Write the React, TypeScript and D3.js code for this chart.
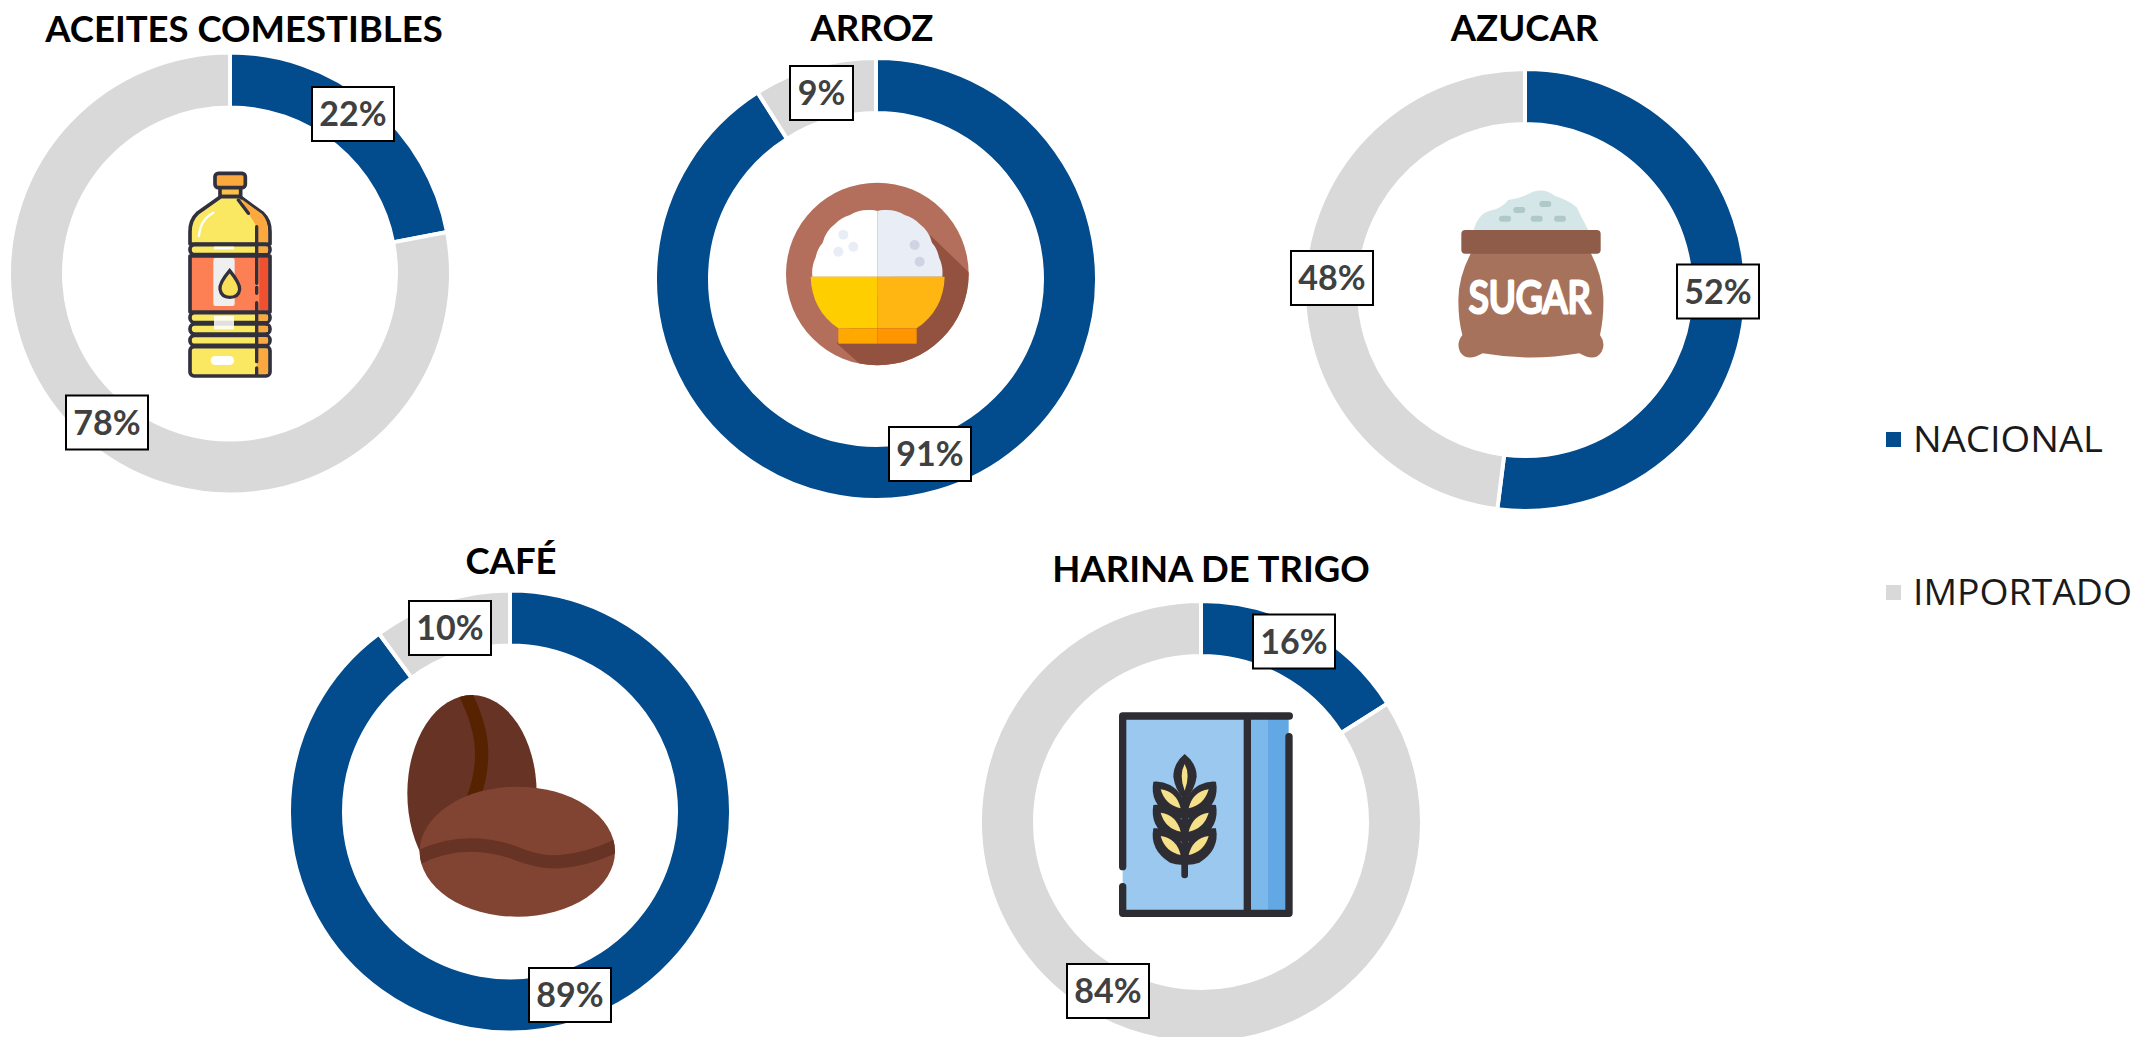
import React from "react";
import * as d3 from "d3";

const categories = ["ACEITES COMESTIBLES", "ARROZ", "AZUCAR", "CAFÉ", "HARINA DE TRIGO"];
const nacional = [22, 91, 52, 89, 16];
const importado = [78, 9, 48, 10, 84];
const seriesNames = ["NACIONAL", "IMPORTADO"];

const BLUE = "#024B8D";
const GRAY = "#D9D9D9";
const colors = [BLUE, GRAY];
const OUTER = 221;
const INNER = 166;

const layout = [
  { cx: 230, cy: 273.5, tx: 244, ty: 42, boxes: [[312, 87], [66, 395.5]] },
  { cx: 876, cy: 279, tx: 872, ty: 41, boxes: [[889, 427], [790, 66]] },
  { cx: 1525, cy: 290, tx: 1524.5, ty: 41, boxes: [[1677, 264.5], [1291, 251]] },
  { cx: 510, cy: 811.5, tx: 511, ty: 574, boxes: [[529, 968], [409, 601]] },
  { cx: 1201, cy: 822, tx: 1211, ty: 582, boxes: [[1253, 614.5], [1067, 964]] },
];
const boxWidths = { narrow: 63, wide: 82 };
const BOX_H = 54;
const legendWidths = [190, 219];

const pie = d3.pie<number>().sort(null).value((d) => d);
const arc = d3.arc<d3.PieArcDatum<number>>().innerRadius(INNER).outerRadius(OUTER);

const Z = ({ x, y, children }: { x: number; y: number; children: React.ReactNode }) => (
  <g transform={`translate(${x},${y}) scale(${1 / 3})`}>{children}</g>
);

const Bottle = () => {
  const ink = "#33303E";
  const bands = [734, 938, 972, 1006];
  return (
    <Z x={0} y={0}>
      <defs>
        <clipPath id="bottleRight"><rect x="770" y="730" width="60" height="420" /></clipPath>
      </defs>
      <g stroke={ink} strokeWidth="11" strokeLinejoin="round">
        <rect x="660" y="560" width="62" height="30" fill="#FBC04A" />
        <rect x="645" y="520" width="91" height="43" rx="10" fill="#FBA83F" />
        <path d="M662 590 L720 590 L788 640 Q810 660 810 695 L810 732 L570 732 L570 695 Q570 660 592 640 Z" fill="#FAE863" />
        {bands.map((y) => <rect key={y} x="570" y={y} width="240" height="30" rx="14" fill="#FAE863" />)}
        <rect x="570" y="768" width="240" height="168" fill="#FC8053" />
        <rect x="570" y="1040" width="240" height="88" rx="12" fill="#FAE863" />
      </g>
      <rect x="640" y="774" width="64" height="144" rx="6" fill="#EFEFEF" />
      <path d="M689 812 Q657 850 660 868 Q664 892 689 892 Q716 892 719 868 Q720 850 689 812Z" fill="#FAE05A" stroke={ink} strokeWidth="10" />
      <path d="M724 597 L786 642 Q804 662 804 695 L804 726 L770 726 L770 680 L745 640Z" fill="#FBA83F" />
      <g clipPath="url(#bottleRight)">
        {bands.map((y) => <rect key={y} x="770" y={y + 6} width="34" height="18" fill="#FBA83F" />)}
        <rect x="778" y="774" width="26" height="156" fill="#EF5030" />
        <rect x="770" y="1046" width="34" height="76" fill="#FBA83F" />
      </g>
      <path d="M770 680 L770 850 M770 862 L770 880 M770 908 L770 1085 M770 1104 L770 1124 M715 600 L745 640" stroke={ink} strokeWidth="10" fill="none" strokeLinecap="round" />
      <rect x="632" y="1068" width="70" height="27" rx="13" fill="#fff" />
      <rect x="642" y="740" width="60" height="8" fill="#fff" />
      <rect x="642" y="948" width="60" height="40" fill="#fff" opacity="0.85" />
      <path d="M597 708 Q600 660 640 638" stroke="#fff" strokeWidth="7" fill="none" strokeLinecap="round" />
    </Z>
  );
};

const Rice = () => {
  const half = "M712 830 L517 830 A110 110 0 0 1 527 772 A90 90 0 0 1 548 728 A100 100 0 0 1 585 672 A100 100 0 0 1 630 645 A100 100 0 0 1 688 630 A50 50 0 0 1 712 633Z";
  return (
    <Z x={640} y={0}>
      <defs>
        <clipPath id="riceC"><circle cx="712" cy="822" r="274" /></clipPath>
      </defs>
      <circle cx="712" cy="822" r="274" fill="#B36F5B" />
      <path clipPath="url(#riceC)" d="M870 705 L1000 830 L1000 1110 L680 1110 L590 1030 L700 900Z" fill="#93513F" />
      <path d={half} fill="#fff" />
      <path d={half} fill="#E8EDF6" transform="translate(1424,0) scale(-1,1)" />
      {[[610, 704], [640, 740], [595, 755]].map(([x, y]) => <circle key={x} cx={x} cy={y} r="15" fill="#E8EDF6" />)}
      {[[824, 735], [839, 785]].map(([x, y]) => <circle key={x} cx={x} cy={y} r="15" fill="#CFD4E3" />)}
      <path d="M712 830 L512 830 Q515 930 595 985 L712 985Z" fill="#FFCE00" />
      <path d="M712 830 L914 830 Q911 930 830 985 L712 985Z" fill="#FFB612" />
      <rect x="595" y="985" width="117" height="46" fill="#FFA800" />
      <rect x="712" y="985" width="118" height="46" fill="#FF9500" />
    </Z>
  );
};

const Sugar = () => (
  <Z x={1290} y={0}>
    <path d="M550 692 Q565 640 600 632 Q632 628 655 600 Q695 595 725 577 Q760 562 795 588 Q835 600 860 622 Q878 660 896 692Z" fill="#D4E6E8" />
    {[[645, 656], [688, 630], [740, 656], [766, 612], [810, 656]].map(([x, y]) => (
      <rect key={x} x={x - 18} y={y - 9} width="36" height="18" rx="9" fill="#AEC9C6" />
    ))}
    <path d="M545 755 Q505 830 505 900 Q505 960 517 1005 Q498 1030 510 1055 Q530 1088 578 1060 Q720 1085 868 1060 Q915 1088 935 1055 Q948 1030 930 1005 Q942 950 940 890 Q935 820 900 755Z" fill="#A6725C" />
    <rect x="514" y="690" width="418" height="71" rx="12" fill="#8E5C48" />
    <text x="719" y="938" textAnchor="middle" textLength="366" lengthAdjust="spacingAndGlyphs" fontFamily="Lato, sans-serif" fontWeight="400" fontSize="132" fill="#fff" stroke="#fff" strokeWidth="9" strokeLinejoin="round">SUGAR</text>
  </Z>
);

const Coffee = () => (
  <Z x={280} y={530}>
    <defs>
      <clipPath id="backBean"><ellipse cx="576" cy="790" rx="194" ry="295" /></clipPath>
      <clipPath id="frontBean"><ellipse cx="712" cy="965" rx="293" ry="195" /></clipPath>
    </defs>
    <ellipse cx="576" cy="790" rx="194" ry="295" fill="#673324" />
    <path clipPath="url(#backBean)" d="M555 490 Q605 590 605 670 Q605 740 578 810" stroke="#572200" strokeWidth="40" fill="none" />
    <ellipse cx="712" cy="965" rx="293" ry="195" fill="#824432" />
    <path clipPath="url(#frontBean)" d="M410 985 Q490 945 570 945 Q650 945 720 975 Q790 1000 840 995 Q920 990 1015 945" stroke="#673324" strokeWidth="40" fill="none" />
  </Z>
);

const Wheat = () => {
  const ink = "#2E2D33";
  const rows = [0, 70, 140];
  const leaves = (d: number) => (
    <g key={d}>
      <path d={`M550 ${725 + d} Q538 ${790 + d} 600 ${828 + d} Q630 ${838 + d} 646 ${832 + d} Q650 ${762 + d} 600 ${735 + d} Q575 ${722 + d} 550 ${725 + d}Z`} fill={ink} />
      <path d={`M572 ${748 + d} Q620 ${755 + d} 632 ${805 + d} Q585 ${795 + d} 572 ${748 + d}Z`} fill="#F6E08A" />
    </g>
  );
  return (
    <Z x={970} y={540}>
      <rect x="458" y="530" width="374" height="590" fill="#9AC8EE" />
      <rect x="832" y="530" width="62" height="590" fill="#7CB8EA" />
      <rect x="894" y="530" width="62" height="590" fill="#62A8E5" />
      <path d="M458 980 L458 528 L958 528 M458 1040 L458 1120 L957 1120 L957 590 M832 528 L832 1120" stroke={ink} strokeWidth="22" fill="none" strokeLinecap="round" strokeLinejoin="round" />
      <path d="M644 950 L644 1005" stroke={ink} strokeWidth="20" strokeLinecap="round" />
      <path d="M644 642 Q610 670 610 710 Q615 750 644 780 Q675 750 680 710 Q680 670 644 642Z" fill={ink} />
      <path d="M644 672 Q626 705 644 752 Q662 705 644 672Z" fill="#F6E08A" />
      {rows.map(leaves)}
      <g transform="translate(1288,0) scale(-1,1)">{rows.map(leaves)}</g>
      <rect x="634" y="770" width="20" height="200" fill={ink} />
    </Z>
  );
};

const icons = [Bottle, Rice, Sugar, Coffee, Wheat];

export default function App() {
  return (
    <svg width={2138} height={1037} viewBox="0 0 2138 1037" style={{ position: "absolute", left: 0, top: 0, background: "#fff" }}>
      {categories.map((name, i) => {
        const L = layout[i];
        const values = [nacional[i], importado[i]];
        const Icon = icons[i];
        return (
          <g key={name}>
            <g transform={`translate(${L.cx},${L.cy})`}>
              {pie(values).map((s, j) => (
                <path key={j} d={arc(s) as string} fill={colors[j]} stroke="#fff" strokeWidth={4} />
              ))}
            </g>
            <text x={L.tx} y={L.ty} textAnchor="middle" fontFamily="Lato, sans-serif" fontWeight={700} fontSize={36.5} fill="#000">{name}</text>
            <Icon />
            {values.map((v, j) => {
              const w = String(v).length === 1 ? boxWidths.narrow : boxWidths.wide;
              const [bx, by] = L.boxes[j];
              return (
                <g key={j}>
                  <rect x={bx} y={by} width={w} height={BOX_H} fill="#fff" stroke="#000" strokeWidth={2} />
                  <text x={bx + w / 2} y={by + 39} textAnchor="middle" fontFamily="Lato, sans-serif" fontWeight={700} fontSize={34} fill="#404040">{v}%</text>
                </g>
              );
            })}
          </g>
        );
      })}
      {seriesNames.map((s, i) => {
        const sy = [432, 585][i];
        return (
          <g key={s}>
            <rect x={1886} y={sy} width={15} height={15} fill={colors[i]} />
            <text x={1913} y={sy + 20} fontFamily="'Open Sans', sans-serif" fontSize={37} textLength={legendWidths[i]} lengthAdjust="spacingAndGlyphs" fill="#1a1a1a">{s}</text>
          </g>
        );
      })}
    </svg>
  );
}
